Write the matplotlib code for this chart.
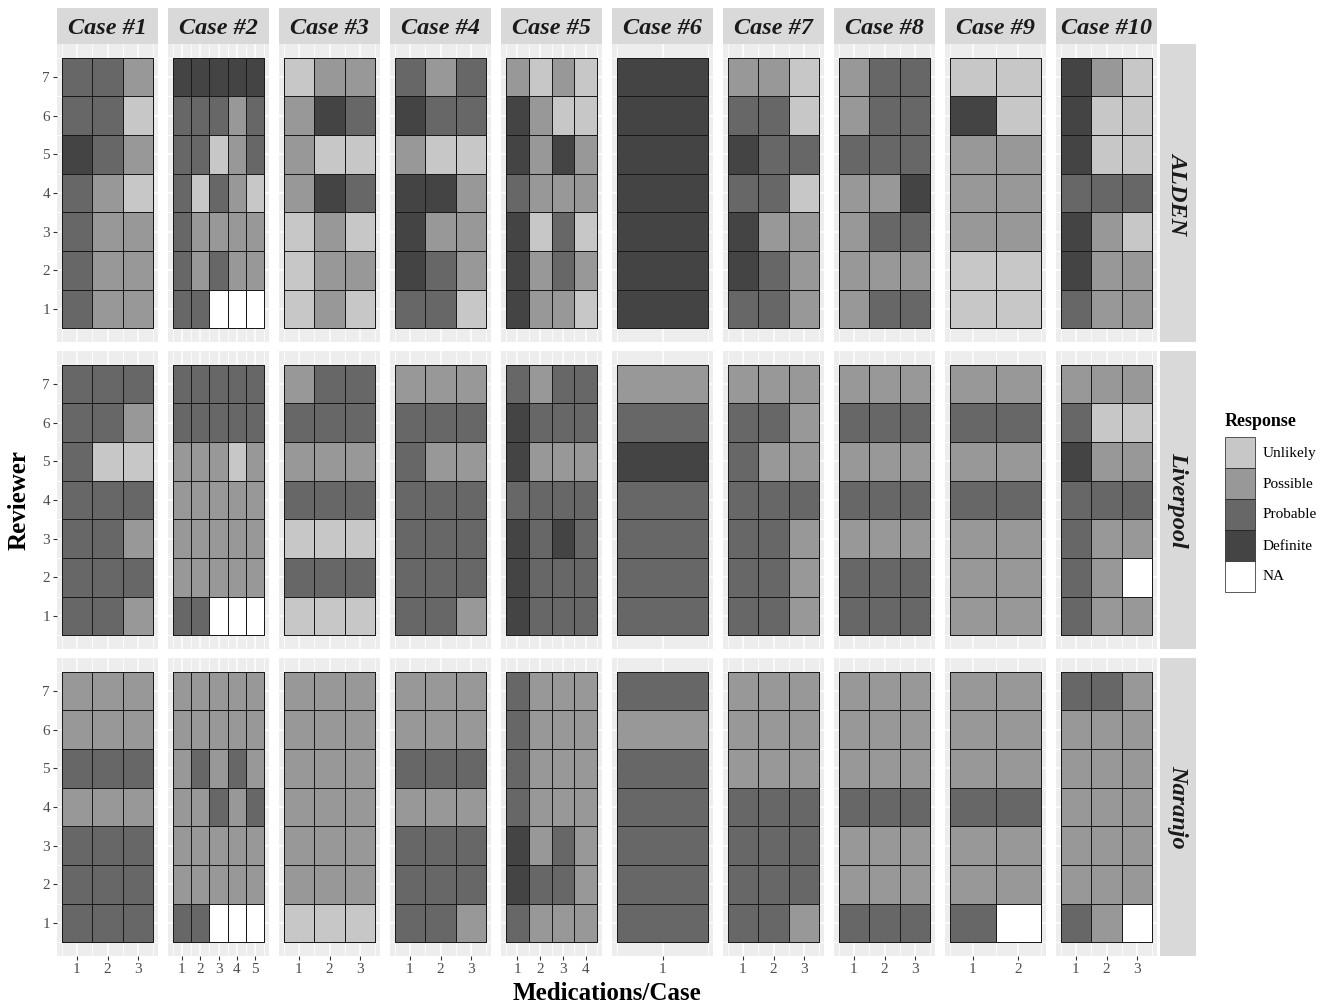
import numpy as np
import matplotlib
matplotlib.use("Agg")
import matplotlib.pyplot as plt
from matplotlib.colors import ListedColormap
from matplotlib.patches import Rectangle

plt.rcParams['font.family'] = ['Liberation Serif', 'DejaVu Serif']

cases = ["Case #%d" % i for i in range(1, 11)]
tools = ["ALDEN", "Liverpool", "Naranjo"]
reviewers = [1, 2, 3, 4, 5, 6, 7]
responses = ["Unlikely", "Possible", "Probable", "Definite", "NA"]
resp_colors = ["#c6c7c6", "#989898", "#676767", "#444444", "#ffffff"]
# U=Unlikely P=Possible R=Probable D=Definite N=NA
code = {"U": 0, "P": 1, "R": 2, "D": 3, "N": 4}

# one string per reviewer, reviewer 7 first (top row), one letter per medication
alden = [
    ["RRP", "RRU", "DRP", "RPU", "RPP", "RPP", "RPP"],
    ["DDDDD", "RRRPR", "RRUPR", "RURPU", "RPPPP", "RPRPP", "RRNNN"],
    ["UPP", "PDR", "PUU", "PDR", "UPU", "UPP", "UPU"],
    ["RPR", "DRR", "PUU", "DDP", "DPP", "DRP", "RRU"],
    ["PUPU", "DPUU", "DPDP", "RPPP", "DURU", "DPRP", "DPPU"],
    ["D", "D", "D", "D", "D", "D", "D"],
    ["PPU", "RRU", "DRR", "RRU", "DPP", "DRP", "RRP"],
    ["PRR", "PRR", "RRR", "PPD", "PRR", "PPP", "PRR"],
    ["UU", "DU", "PP", "PP", "PP", "UU", "UU"],
    ["DPU", "DUU", "DUU", "RRR", "DPU", "DPP", "RPP"],
]
liverpool = [
    ["RRR", "RRP", "RUU", "RRR", "RRP", "RRR", "RRP"],
    ["RRRRR", "RRRRR", "PPPUP", "PPPPP", "PPPPP", "PPPPP", "RRNNN"],
    ["PRR", "RRR", "PPP", "RRR", "UUU", "RRR", "UUU"],
    ["PPP", "RRR", "RPP", "RRR", "RRR", "RRR", "RRP"],
    ["RPRR", "DRRR", "DPPP", "RRRR", "DRDR", "DRRR", "DRRR"],
    ["P", "R", "D", "R", "R", "R", "R"],
    ["PPP", "RRP", "RPP", "RRR", "RRP", "RRP", "RRP"],
    ["PPP", "RRR", "PPP", "RRR", "PPP", "RRR", "RRR"],
    ["PP", "RR", "PP", "RR", "PP", "PP", "PP"],
    ["PPP", "RUU", "DPP", "RRR", "RPP", "RPN", "RPP"],
]
naranjo = [
    ["PPP", "PPP", "RRR", "PPP", "RRR", "RRR", "RRR"],
    ["PPPPP", "PPPPP", "PRPRP", "PPRPR", "PPPPP", "PPPPP", "RRNNN"],
    ["PPP", "PPP", "PPP", "PPP", "PPP", "PPP", "UUU"],
    ["PPP", "PPP", "RRR", "PPP", "RRR", "RRR", "RRP"],
    ["RPPP", "RPPP", "RPPP", "RPPP", "DPRP", "DRRP", "RPPP"],
    ["R", "P", "R", "R", "R", "R", "R"],
    ["PPP", "PPP", "PPP", "RRR", "RRR", "RRR", "RRP"],
    ["PPP", "PPP", "PPP", "RRR", "PPP", "PPP", "RRR"],
    ["PP", "PP", "PP", "RR", "PP", "PP", "RN"],
    ["RRP", "PPP", "PPP", "PPP", "PPP", "PPP", "RPN"],
]
data = [alden, liverpool, naranjo]

W, H = 1331, 1007
fig = plt.figure(figsize=(W / 100, H / 100), dpi=100)
cmap = ListedColormap(resp_colors)


def px_axes(x, y, w, h):
    return fig.add_axes([x / W, 1 - (y + h) / H, w / W, h / H])


for r, tool in enumerate(tools):
    for c, case in enumerate(cases):
        grid = data[r][c]
        n = len(grid[0])
        m = np.array([[code[ch] for ch in row] for row in grid[::-1]])
        ax = px_axes(57 + c * 111, 44 + r * 307, 101, 298)
        ax.set_facecolor('#ededed')
        ax.pcolormesh(np.arange(n + 1) + 0.5, np.arange(len(reviewers) + 1) + 0.5, m,
                      cmap=cmap, vmin=-0.5, vmax=4.5,
                      edgecolors='#1a1a1a', linewidth=0.5, zorder=3)
        padx = 0.05 * n
        ax.set_xlim(0.5 - padx, n + 0.5 + padx)
        ax.set_ylim(0.15, 7.85)
        ax.set_xticks(range(1, n + 1))
        ax.set_xticks(np.arange(0.5, n + 1, 1.0), minor=True)
        ax.set_yticks(reviewers)
        ax.set_yticks(np.arange(0.5, 8, 1.0), minor=True)
        ax.grid(which='major', color='white', lw=1.1, zorder=0)
        ax.grid(which='minor', color='white', lw=0.55, zorder=0)
        ax.set_axisbelow(True)
        for s in ax.spines.values():
            s.set_visible(False)
        ax.tick_params(which='minor', length=0)
        ax.tick_params(which='major', length=3, color='#333333',
                       labelcolor='#4d4d4d', labelsize=11, pad=2)
        if r != 2:
            ax.tick_params(axis='x', length=0, labelbottom=False)
        if c != 0:
            ax.tick_params(axis='y', length=0, labelleft=False)

        if r == 0:
            sax = px_axes(57 + c * 111, 8, 101, 36)
            sax.set_facecolor('#d9d9d9')
            sax.set_xticks([])
            sax.set_yticks([])
            for s in sax.spines.values():
                s.set_visible(False)
            sax.text(0.5, 0.42, case, ha='center', va='center', fontsize=17.5,
                     fontweight='bold', fontstyle='italic', color='#1a1a1a',
                     transform=sax.transAxes)

    rax = px_axes(1160, 44 + r * 307, 36, 298)
    rax.set_facecolor('#d9d9d9')
    rax.set_xticks([])
    rax.set_yticks([])
    for s in rax.spines.values():
        s.set_visible(False)
    rax.text(0.5, 0.5, tool, ha='center', va='center', rotation=-90, fontsize=17.5,
             fontweight='bold', fontstyle='italic', color='#1a1a1a',
             transform=rax.transAxes)

fig.text(19 / W, 1 - 500 / H, "Reviewer", rotation=90, ha='center', va='center',
         fontsize=18, fontweight='bold')
fig.text(607 / W, 1 - 994 / H, "Medications/Case", ha='center', va='center',
         fontsize=18, fontweight='bold')

# legend
lax = px_axes(0, 0, W, H)
lax.set_xlim(0, W)
lax.set_ylim(H, 0)
lax.axis('off')
lax.patch.set_alpha(0)
lax.text(1225, 421, "Response", ha='left', va='center', fontsize=13, fontweight='bold')
for i, (lab, col) in enumerate(zip(responses, resp_colors)):
    y0 = 437 + i * 31
    lax.add_patch(Rectangle((1225, y0), 30, 31, facecolor=col, edgecolor='#1a1a1a', lw=0.5))
    lax.text(1263, y0 + 16, lab, ha='left', va='center', fontsize=11)

fig.savefig("out.png", dpi=100)
